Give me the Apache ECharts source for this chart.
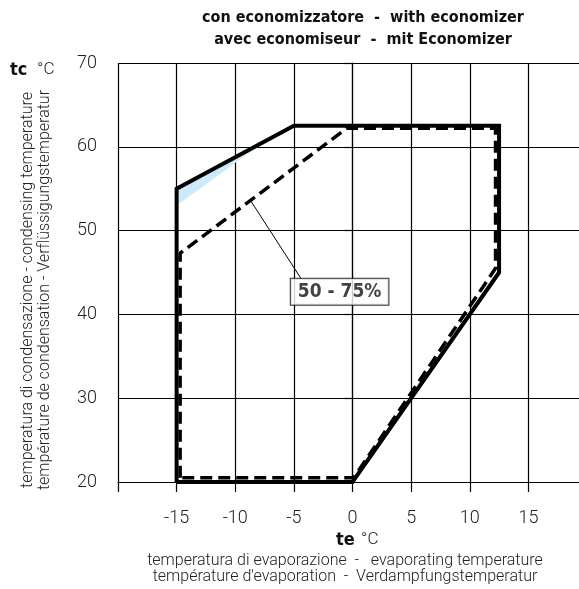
<!DOCTYPE html>
<html>
<head>
<meta charset="utf-8">
<script src="https://cdn.jsdelivr.net/npm/echarts@6/dist/echarts.min.js"></script>
<style>
html,body{margin:0;padding:0;background:#fff;}
#c{width:579px;height:589px;}
</style>
</head>
<body>
<div id="c"></div>
<script>
// ---- data ----
var xTicks = [-20, -15, -10, -5, 0, 5, 10, 15, 20];
var yTicks = [20, 30, 40, 50, 60, 70];
// envelope (solid)
var solidX = [-15, -15, -5, 12.5, 12.5, 0, -15];
var solidY = [20, 55, 62.5, 62.5, 45, 20, 20];
// 50 - 75% capacity envelope (dashed)
var dashX = [-14.7, -14.7, -0.5, 12.2, 12.2, 0.1, -14.7];
var dashY = [20.5, 47.3, 62.2, 62.2, 45.5, 20.5, 20.5];
// light blue region
var blueX = [-15, -7.3, -15];
var blueY = [55, 60.8, 53];
// annotation
var leaderX = [-8.7, -4.4];
var leaderY = [53.6, 44.3];
var labelText = '50 - 75%';
var labelPos = [-1.1, 42.7];

function pairs(xs, ys){ return xs.map(function(x,i){ return [x, ys[i]]; }); }

var FONT = "Roboto, 'DejaVu Sans Condensed', sans-serif";
var BFONT = "'DejaVu Sans Condensed', 'Liberation Sans Narrow', sans-serif";
var chart = echarts.init(document.getElementById('c'), null, {renderer:'canvas'});
chart.setOption({
  animation: false,
  backgroundColor: '#fff',
  title: {
    text: 'con economizzatore  -  with economizer\navec economiseur  -  mit Economizer',
    left: 358, top: 2, textAlign: 'center',
    textStyle: {fontFamily: BFONT, fontWeight: 'bold', fontSize: 16, lineHeight: 22, color: '#111'}
  },
  grid: {left: 118, top: 63, width: 469, height: 419, outerBoundsMode: 'none', containLabel: false},
  xAxis: {
    type: 'value', min: -20, max: 20, interval: 5,
    axisLine: {show: true, lineStyle: {color: '#000', width: 1.2}},
    axisTick: {show: true, length: 10, lineStyle: {color: '#000', width: 1.2}},
    splitLine: {show: true, lineStyle: {color: '#000', width: 1.2}},
    axisLabel: {
      margin: 27, fontFamily: FONT, fontWeight: 300, fontSize: 18, color: '#222',
      formatter: function(v){ return (v === -20 || v === 20) ? '' : String(v); }
    }
  },
  yAxis: {
    type: 'value', min: 20, max: 70, interval: 10,
    axisLine: {show: true, lineStyle: {color: '#000', width: 1.2}},
    axisTick: {show: true, length: 8, lineStyle: {color: '#000', width: 1.2}},
    splitLine: {show: true, lineStyle: {color: '#000', width: 1.2}},
    axisLabel: {margin: 21, fontFamily: FONT, fontWeight: 300, fontSize: 18, color: '#222'}
  },
  graphic: [
    {type: 'text', left: 10, top: 61, style: {text: 'tc', font: 'bold 18px ' + BFONT, fill: '#111'}},
    {type: 'text', left: 37, top: 61, style: {text: '°C', font: '300 17px ' + FONT, fill: '#222'}},
    {type: 'text', left: 336, top: 531, style: {text: 'te', font: 'bold 18px ' + BFONT, fill: '#111'}},
    {type: 'text', left: 361, top: 531, style: {text: '°C', font: '300 17px ' + FONT, fill: '#222'}},
    {type: 'text', x: 345, y: 553, style: {
      text: 'temperatura di evaporazione  -   evaporating temperature\ntempérature d\'evaporation  -  Verdampfungstemperatur',
      font: '300 16px ' + FONT, fill: '#222', align: 'center', verticalAlign: 'top', lineHeight: 16}},
    {type: 'text', x: 36, y: 290, rotation: Math.PI/2, style: {
      text: 'temperatura di condensazione - condensing temperature\ntempérature de condensation - Verflüssigungstemperatur',
      font: '300 16px ' + FONT, fill: '#222', align: 'center', verticalAlign: 'middle', lineHeight: 17}}
  ],
  series: [
    {
      type: 'custom', z: 1,
      renderItem: function(params, api){
        var pts = blueX.map(function(x,i){ return api.coord([x, blueY[i]]); });
        return {type: 'polygon', shape: {points: pts}, style: {fill: '#cdeafa'}};
      },
      data: [0]
    },
    {
      type: 'line', z: 3, data: pairs(solidX, solidY), symbol: 'none',
      lineStyle: {color: '#000', width: 4, join: 'miter'}
    },
    {
      type: 'line', z: 4, data: pairs(dashX, dashY), symbol: 'none',
      lineStyle: {color: '#000', width: 3.5, type: [12, 6]}
    },
    {
      type: 'line', z: 5, data: pairs(leaderX, leaderY), symbol: 'none',
      lineStyle: {color: '#000', width: 1}
    },
    {
      type: 'scatter', z: 6, data: [labelPos], symbolSize: 0,
      label: {
        show: true, position: 'inside', formatter: labelText,
        fontFamily: BFONT, fontWeight: 'bold', fontSize: 19, color: '#111',
        backgroundColor: '#fff', borderColor: '#000', borderWidth: 1,
        padding: [4, 7, 3, 7]
      }
    }
  ]
});
</script>
</body>
</html>
